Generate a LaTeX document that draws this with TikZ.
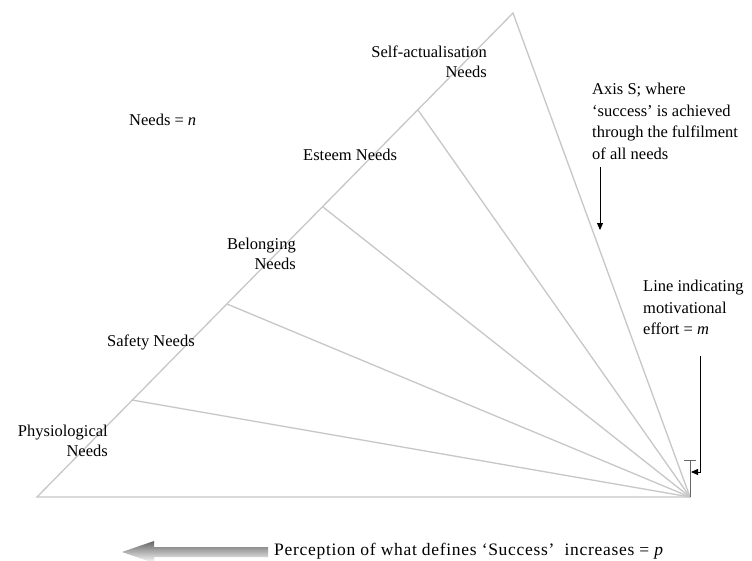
\documentclass[tikz,border=0pt]{standalone}
\usepackage{fontspec}
\setmainfont{Liberation Serif}
\usetikzlibrary{arrows.meta}
\begin{document}
\begin{tikzpicture}[x=1pt,y=-1pt,
  fan/.style={draw=black!22, line width=1.3pt},
  lbl/.style={inner sep=0pt, font=\fontsize{16.5}{19.5}\selectfont},
  rlbl/.style={inner sep=0pt, font=\fontsize{16.5}{21.5}\selectfont, align=left, anchor=north west},
  pointer/.style={draw=black, line width=0.9pt, -{Triangle[length=7pt,width=6pt]}},
  marker/.style={draw=black!60, line width=1pt}]
\useasboundingbox (0,0) rectangle (752,560);
\fill[white] (0,0) rectangle (752,560);
% triangle points
\coordinate (T) at (513,13);
\coordinate (BL) at (37,497);
\coordinate (C) at (690,497);
\coordinate (P1) at (132,400);
\coordinate (P2) at (227,304);
\coordinate (P3) at (323,207);
\coordinate (P4) at (418,110);
\draw[fan] (BL) -- (T) -- (C) -- cycle;
\draw[fan] (P1) -- (C);
\draw[fan] (P2) -- (C);
\draw[fan] (P3) -- (C);
\draw[fan] (P4) -- (C);
% labels
\node[lbl, anchor=east, align=right] (self) at (487,62) {Self-actualisation\\Needs};
\node[lbl, anchor=west] (needsn) at (129,120) {Needs = \textit{n}};
\node[lbl, anchor=west] (esteem) at (303,155) {Esteem Needs};
\node[lbl, anchor=east, align=right] (belong) at (296,254) {Belonging\\Needs};
\node[lbl, anchor=west] (safety) at (107,342) {Safety Needs};
\node[lbl, anchor=east, align=right] (phys) at (108,441) {Physiological\\Needs};
\node[rlbl] (axis) at (592,83) {Axis S; where\\‘success’ is achieved\\through the fulfilment\\of all needs};
\node[rlbl] (effort) at (643,280) {Line indicating\\motivational\\effort = \textit{m}};
% marker
\coordinate (Mt) at (690,460);
\coordinate (Mb) at (690,497);
\draw[marker] (Mt) -- (Mb);
\draw[marker] (684,460) -- (696,460);
% arrows
\coordinate (A1) at (600,167);
\coordinate (A2) at (600,230);
\draw[pointer] (A1) -- (A2);
\coordinate (B1) at (700,356);
\coordinate (B2) at (691,472);
\draw[pointer] (B1) |- (B2);
% bottom gradient arrow
\shade[left color=black!60, right color=white, shading angle=0]
  (122,552) -- (154,541) -- (154,547) -- (268,547) -- (268,557) -- (154,557) -- (154,563) -- cycle;
\node[lbl, anchor=west, font=\fontsize{17.5}{20}\selectfont\addfontfeatures{LetterSpace=4}] (percep) at (274,551) {Perception of what defines ‘Success’\ \ increases = \textit{p}};
\end{tikzpicture}
\end{document}
